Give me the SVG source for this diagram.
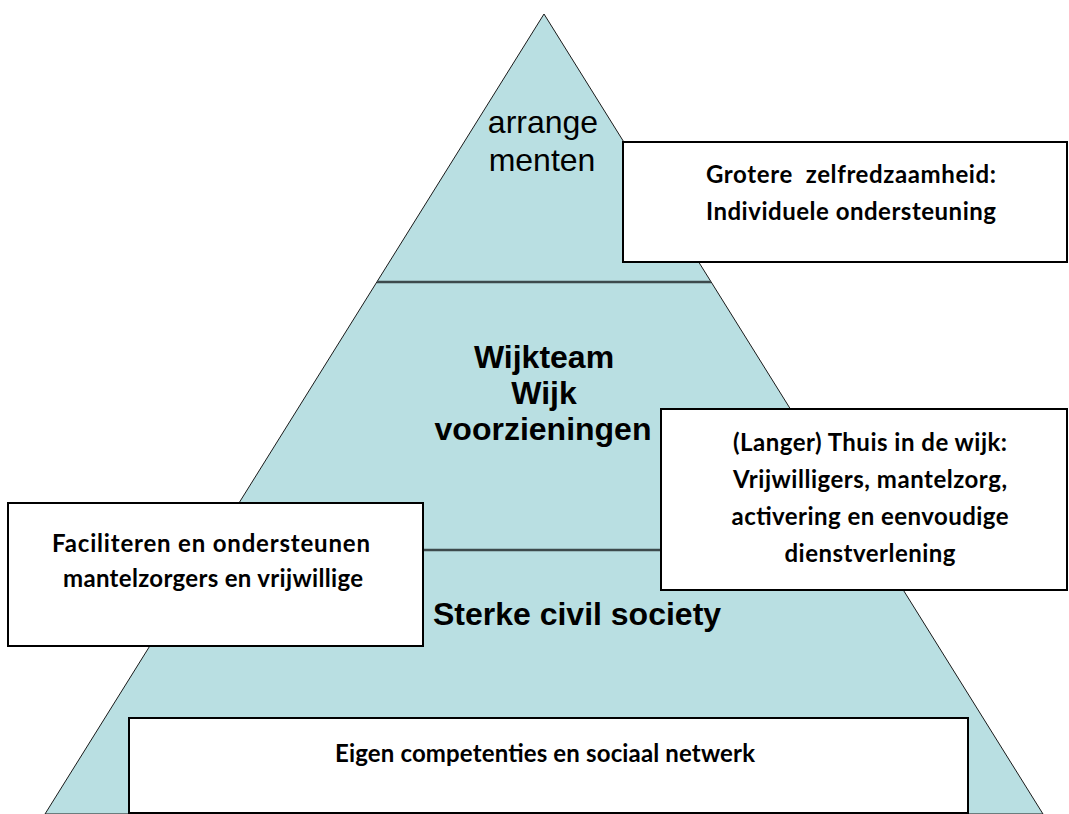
<svg xmlns="http://www.w3.org/2000/svg" width="1069" height="814" viewBox="0 0 1069 814">
<style>
.tri{fill:#b9dfe2;stroke:#1a1a1a;stroke-width:1}
.div{stroke:#3d4a4c;stroke-width:2.5;fill:none}
.box{fill:#fff;stroke:#000;stroke-width:2}
.lab{font-family:"Liberation Sans",Arial,sans-serif;fill:#000;text-anchor:middle}
.bt{font-family:Lato,"Open Sans",sans-serif;font-weight:bold;font-size:24px;fill:#000;text-anchor:middle;white-space:pre}
</style>
<rect width="1069" height="814" fill="#fff"/>
<g id="pyramid">
<polygon class="tri" points="544,14 1043,814 45,814"/>
</g>
<g id="dividers">
<line class="div" x1="377" y1="282" x2="711" y2="282"/>
<line class="div" x1="210" y1="550" x2="878" y2="550"/>
</g>
<g id="level-top">
<text class="lab" font-size="32" x="543" y="133">arrange</text>
<text class="lab" font-size="32" x="542" y="171">menten</text>
</g>
<g id="level-middle">
<text class="lab" font-size="32" font-weight="bold" x="544" y="368">Wijkteam</text>
<text class="lab" font-size="32" font-weight="bold" x="544" y="404">Wijk</text>
<text class="lab" font-size="32" font-weight="bold" x="543" y="440">voorzieningen</text>
</g>
<g id="level-bottom">
<text class="lab" font-size="32" font-weight="bold" x="577" y="625">Sterke civil society</text>
</g>
<g id="box-grotere">
<rect class="box" x="623" y="142" width="444" height="120"/>
<text class="bt" x="851" y="183" textLength="290" xml:space="preserve">Grotere  zelfredzaamheid:</text>
<text class="bt" x="851" y="220" textLength="290">Individuele ondersteuning</text>
</g>
<g id="box-langer">
<rect class="box" x="661" y="409" width="406" height="181"/>
<text class="bt" x="870" y="451" textLength="274">(Langer) Thuis in de wijk:</text>
<text class="bt" x="870" y="488" textLength="274">Vrijwilligers, mantelzorg,</text>
<text class="bt" x="870" y="525" textLength="277">activering en eenvoudige</text>
<text class="bt" x="870" y="562" textLength="171">dienstverlening</text>
</g>
<g id="box-faciliteren">
<rect class="box" x="8" y="503" width="415" height="143"/>
<text class="bt" x="211" y="552" textLength="318">Faciliteren en ondersteunen</text>
<text class="bt" x="213" y="587" textLength="300">mantelzorgers en vrijwillige</text>
</g>
<g id="box-eigen">
<rect class="box" x="129" y="718" width="839" height="95"/>
<text class="bt" font-size="22" x="545" y="762" textLength="420">Eigen competenties en sociaal netwerk</text>
</g>
</svg>
